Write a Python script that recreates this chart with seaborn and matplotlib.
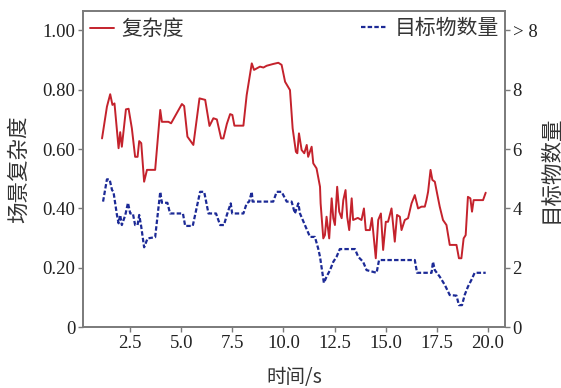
import matplotlib
matplotlib.use("Agg")
import matplotlib.pyplot as plt
import seaborn as sns
import pandas as pd

# Scene complexity over time (left axis)
t_complexity = [1.12, 1.36, 1.52, 1.63, 1.73, 1.93, 2.01, 2.09, 2.29, 2.42, 2.58, 2.74, 2.86,
                 2.94, 3.04, 3.18, 3.32, 3.72, 3.97, 4.05, 4.37, 4.50, 5.03, 5.14, 5.30, 5.59,
                 5.89, 6.17, 6.38, 6.57, 6.74, 6.95, 7.06, 7.23, 7.39, 7.50, 7.60, 8.04, 8.20,
                 8.28, 8.45, 8.56, 8.85, 9.02, 9.18, 9.50, 9.75, 9.91, 10.08, 10.32, 10.45,
                 10.61, 10.68, 10.76, 10.89, 11.02, 11.14, 11.21, 11.38, 11.46, 11.62, 11.79,
                 11.82, 11.95, 12.03, 12.11, 12.24, 12.36, 12.44, 12.52, 12.63, 12.73, 12.85,
                 12.93, 13.04, 13.12, 13.22, 13.34, 13.41, 13.64, 13.82, 13.94, 14.03, 14.23,
                 14.33, 14.52, 14.64, 14.77, 14.88, 15.01, 15.12, 15.29, 15.45, 15.56, 15.70,
                 15.78, 15.94, 16.10, 16.27, 16.43, 16.59, 16.76, 16.92, 17.00, 17.08, 17.20,
                 17.29, 17.41, 17.52, 17.65, 17.81, 17.98, 18.14, 18.47, 18.59, 18.71, 18.82,
                 18.92, 19.03, 19.15, 19.23, 19.31, 19.77, 19.90]
complexity = [0.636, 0.743, 0.785, 0.749, 0.754, 0.603, 0.657, 0.608, 0.734, 0.736, 0.670,
              0.574, 0.574, 0.627, 0.620, 0.490, 0.530, 0.530, 0.732, 0.692, 0.692, 0.687,
              0.752, 0.745, 0.642, 0.614, 0.771, 0.766, 0.678, 0.704, 0.700, 0.636, 0.636,
              0.685, 0.718, 0.715, 0.679, 0.679, 0.782, 0.816, 0.889, 0.867, 0.878, 0.875,
              0.881, 0.887, 0.891, 0.884, 0.827, 0.799, 0.670, 0.591, 0.586, 0.653, 0.597,
              0.586, 0.614, 0.574, 0.608, 0.552, 0.535, 0.473, 0.417, 0.299, 0.310, 0.372,
              0.299, 0.434, 0.367, 0.344, 0.473, 0.389, 0.367, 0.428, 0.462, 0.372, 0.327,
              0.434, 0.361, 0.368, 0.361, 0.400, 0.327, 0.327, 0.368, 0.232, 0.361, 0.383,
              0.260, 0.355, 0.355, 0.400, 0.288, 0.378, 0.372, 0.327, 0.361, 0.367, 0.417,
              0.445, 0.400, 0.406, 0.406, 0.428, 0.456, 0.530, 0.496, 0.490, 0.451, 0.406,
              0.361, 0.344, 0.277, 0.277, 0.232, 0.232, 0.299, 0.310, 0.439, 0.434, 0.389,
              0.428, 0.428, 0.453]

# Number of targets over time (right axis)
t_targets = [1.17, 1.36, 1.49, 1.61, 1.68, 1.85, 1.93, 2.01, 2.09, 2.26, 2.39, 2.50, 2.63,
             2.74, 2.86, 2.94, 3.04, 3.18, 3.35, 3.72, 3.97, 4.05, 4.32, 4.45, 5.08, 5.19,
             5.56, 5.92, 6.12, 6.33, 6.70, 6.90, 7.09, 7.23, 7.42, 7.49, 8.04, 8.20, 8.32,
             8.45, 8.49, 9.50, 9.67, 9.91, 10.16, 10.40, 10.56, 10.73, 10.81, 11.05, 11.30,
             11.54, 11.70, 11.79, 11.98, 12.11, 12.28, 12.44, 12.60, 12.76, 13.50, 13.66,
             13.90, 14.07, 14.56, 14.68, 16.43, 16.54, 17.25, 17.32, 17.41, 17.65, 17.90,
             18.14, 18.47, 18.59, 18.74, 18.87, 19.03, 19.20, 19.36, 19.90]
targets = [4.23, 4.98, 4.98, 4.62, 4.56, 3.78, 3.50, 3.78, 3.44, 3.78, 4.19, 3.83, 3.83,
           3.44, 3.44, 3.78, 3.38, 2.69, 2.99, 3.03, 4.56, 4.19, 4.19, 3.83, 3.83, 3.41,
           3.41, 4.56, 4.56, 3.83, 3.83, 3.44, 3.44, 3.78, 4.17, 3.83, 3.83, 4.17, 4.23,
           4.56, 4.23, 4.23, 4.56, 4.56, 4.23, 4.23, 3.83, 4.17, 3.83, 3.44, 3.04, 3.04,
           2.65, 2.37, 1.49, 1.70, 1.92, 2.20, 2.37, 2.63, 2.63, 2.37, 2.20, 1.92, 1.83,
           2.26, 2.26, 1.83, 1.83, 2.20, 1.92, 1.70, 1.42, 1.08, 1.06, 0.74, 0.74, 1.08,
           1.36, 1.59, 1.83, 1.83]

left_ticks = [0, 0.2, 0.4, 0.6, 0.8, 1.0]
left_ticklabels = ["0", "0.20", "0.40", "0.60", "0.80", "1.00"]
right_ticks = [0, 2, 4, 6, 8, 10]
right_ticklabels = ["0", "2", "4", "6", "8", "> 8"]
x_ticks = [2.5, 5.0, 7.5, 10.0, 12.5, 15.0, 17.5, 20.0]

sns.set_style("ticks")
cjk = ["Noto Sans CJK SC", "DejaVu Sans"]
serif = ["Liberation Serif", "DejaVu Serif"]
plt.rcParams["font.family"] = serif

red = "#c4222c"
blue = "#1c2a96"
spine_gray = "#7a7a7a"
text_color = "#333333"

df_c = pd.DataFrame({"t": t_complexity, "v": complexity})
df_n = pd.DataFrame({"t": t_targets, "v": targets})

fig = plt.figure(figsize=(5.61, 3.88), dpi=100)
ax = fig.add_axes([0.148, 0.157, 0.752, 0.815])
ax2 = ax.twinx()

sns.lineplot(data=df_c, x="t", y="v", ax=ax, color=red, lw=1.4, label="复杂度",
             estimator=None, sort=False)
sns.lineplot(data=df_n, x="t", y="v", ax=ax2, color=blue, lw=1.6, label="目标物数量",
             estimator=None, sort=False, linestyle=(0, (2.0, 1.0)))

ax.set_ylim(0, 1.066)
ax2.set_ylim(0, 10.66)
ax.set_xlim(0.19, 20.84)

ax.set_yticks(left_ticks)
ax.set_yticklabels(left_ticklabels)
ax2.set_yticks(right_ticks)
ax2.set_yticklabels(right_ticklabels)
ax.set_xticks(x_ticks)
ax.set_xticklabels([f"{v:.1f}" for v in x_ticks])

for a in (ax, ax2):
    for s in a.spines.values():
        s.set_visible(True)
        s.set_color(spine_gray)
        s.set_linewidth(1.2)
    a.tick_params(labelsize=13.5, length=3.5, width=1.0, color=spine_gray,
                  labelcolor="#222222", pad=2)
    for lab in a.get_xticklabels() + a.get_yticklabels():
        lab.set_family(serif)

ax.set_xlabel("时间/s", fontsize=14, family=cjk, color=text_color)
ax.set_ylabel("场景复杂度", fontsize=15.5, family=cjk, color=text_color)
ax2.set_ylabel("目标物数量", fontsize=15.5, family=cjk, color=text_color)
ax.xaxis.set_label_coords(0.5, -0.127)
ax.yaxis.set_label_coords(-0.126, 0.5)
ax2.yaxis.set_label_coords(1.083, 0.5)

leg1 = ax.legend(loc="upper left", frameon=False, prop={"family": cjk, "size": 15},
                 handlelength=1.15, handletextpad=0.35, borderaxespad=0.15,
                 borderpad=0.2)
leg2 = ax2.legend(loc="upper right", frameon=False, prop={"family": cjk, "size": 15},
                  handlelength=1.25, handletextpad=0.35, borderaxespad=0.1,
                  borderpad=0.2)
for leg in (leg1, leg2):
    for txt in leg.get_texts():
        txt.set_color(text_color)

fig.savefig("out.png", dpi=100)
